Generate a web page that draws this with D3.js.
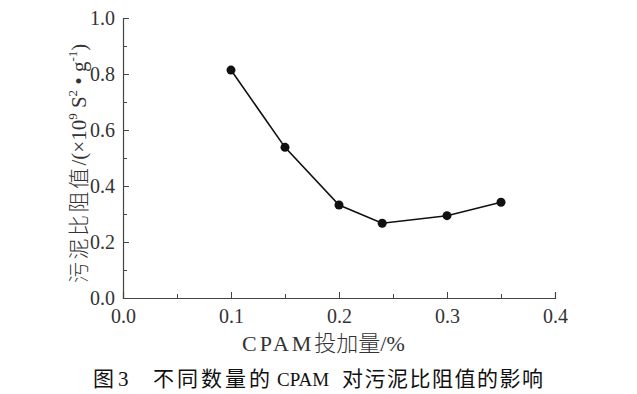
<!DOCTYPE html>
<html>
<head>
<meta charset="utf-8">
<script src="https://cdn.jsdelivr.net/npm/d3@7"></script>
<style>
  body { margin: 0; background: #fff; }
  .serif { font-family: "Liberation Serif", "Times New Roman", serif; }
</style>
</head>
<body>
<script>
// CPAM dosage (%) and specific resistance (x10^9 s^2/g)
var dosage = [0.10, 0.15, 0.20, 0.24, 0.30, 0.35];
var resistance = [0.814, 0.538, 0.332, 0.267, 0.294, 0.342];
var xTicks = [0.0, 0.1, 0.2, 0.3, 0.4];
var yTicks = [0.0, 0.2, 0.4, 0.6, 0.8, 1.0];

var width = 637, height = 394;
var svg = d3.select("body").append("svg").attr("width", width).attr("height", height);

var x = d3.scaleLinear().domain([0, 0.4]).range([123, 555]);
var y = d3.scaleLinear().domain([0, 1.0]).range([298, 18]);

var serif = "'Liberation Serif', 'Times New Roman', serif";
var cjk = "'Noto Sans CJK SC', sans-serif";

// x axis: major ticks inward, minor ticks in between
var gx = svg.append("g").attr("transform", "translate(0,298)")
  .call(d3.axisBottom(x).tickValues(xTicks).tickSize(-6).tickPadding(11).tickFormat(d3.format(".1f")));
svg.append("g").attr("transform", "translate(0,298)")
  .call(d3.axisBottom(x).tickValues([0.05, 0.15, 0.25, 0.35]).tickSize(-4).tickFormat(""))
  .select(".domain").remove();

var gy = svg.append("g").attr("transform", "translate(123,0)")
  .call(d3.axisLeft(y).tickValues(yTicks).tickSize(-6).tickPadding(8).tickFormat(d3.format(".1f")));
svg.append("g").attr("transform", "translate(123,0)")
  .call(d3.axisLeft(y).tickValues([0.1, 0.3, 0.5, 0.7, 0.9]).tickSize(-4).tickFormat(""))
  .select(".domain").remove();

gx.attr("font-family", null).attr("font-size", 20);
gy.attr("font-family", null).attr("font-size", 20);
svg.selectAll(".tick text").attr("class", "serif").style("font-family", serif).attr("fill", "#333");
svg.selectAll(".domain").attr("stroke", "#444").attr("stroke-width", 1.2);
svg.selectAll(".tick line").attr("stroke", "#444").attr("stroke-width", 1);

// line and markers
var pts = dosage.map(function(d, i) { return [d, resistance[i]]; });
svg.append("path").datum(pts)
  .attr("fill", "none").attr("stroke", "#111").attr("stroke-width", 1.6)
  .attr("d", d3.line().x(function(d) { return x(d[0]); }).y(function(d) { return y(d[1]); }));
svg.selectAll("circle.pt").data(pts).enter().append("circle").attr("class", "pt")
  .attr("cx", function(d) { return x(d[0]); })
  .attr("cy", function(d) { return y(d[1]); })
  .attr("r", 4.5).attr("fill", "#111");

// x title
var xt = svg.append("text").attr("x", 242).attr("y", 351)
  .style("font-family", serif).attr("font-size", 22).attr("fill", "#333");
xt.append("tspan").attr("letter-spacing", 3).text("CPAM");
xt.append("tspan").style("font-family", cjk).attr("font-weight", 300).text("投加量");
xt.append("tspan").text("/%");

// y title (rotated)
var yl = svg.append("text").attr("transform", "translate(86,283) rotate(-90)")
  .style("font-family", serif).attr("font-size", 21).attr("fill", "#333");
yl.append("tspan").style("font-family", cjk).attr("font-weight", 300).attr("letter-spacing", 2.5).text("污泥比阻值");
yl.append("tspan").text("/(×10");
yl.append("tspan").attr("dy", -9).attr("font-size", 13).text("9");
yl.append("tspan").attr("dy", 9).text(" S");
yl.append("tspan").attr("dy", -9).attr("font-size", 13).text("2");
yl.append("tspan").attr("dy", 9).text(" • g");
yl.append("tspan").attr("dy", -9).attr("font-size", 13).text("-1");
yl.append("tspan").attr("dy", 9).text(")");

// caption
var caption = [
  {t: "图", x: 93, ls: 0, f: cjk, s: 21},
  {t: "3", x: 118, ls: 0, f: serif, s: 21},
  {t: "不同数量的", x: 153, ls: 3, f: cjk, s: 21},
  {t: "CPAM", x: 277, ls: 0, f: serif, s: 19},
  {t: "对污泥比阻值的影响", x: 342, ls: 1.5, f: cjk, s: 21}
];
svg.selectAll("text.cap").data(caption).enter().append("text").attr("class", "cap")
  .attr("x", function(d) { return d.x; }).attr("y", 386)
  .attr("letter-spacing", function(d) { return d.ls; })
  .style("font-family", function(d) { return d.f; })
  .attr("font-size", function(d) { return d.s; }).attr("fill", "#111")
  .text(function(d) { return d.t; });
</script>
</body>
</html>
